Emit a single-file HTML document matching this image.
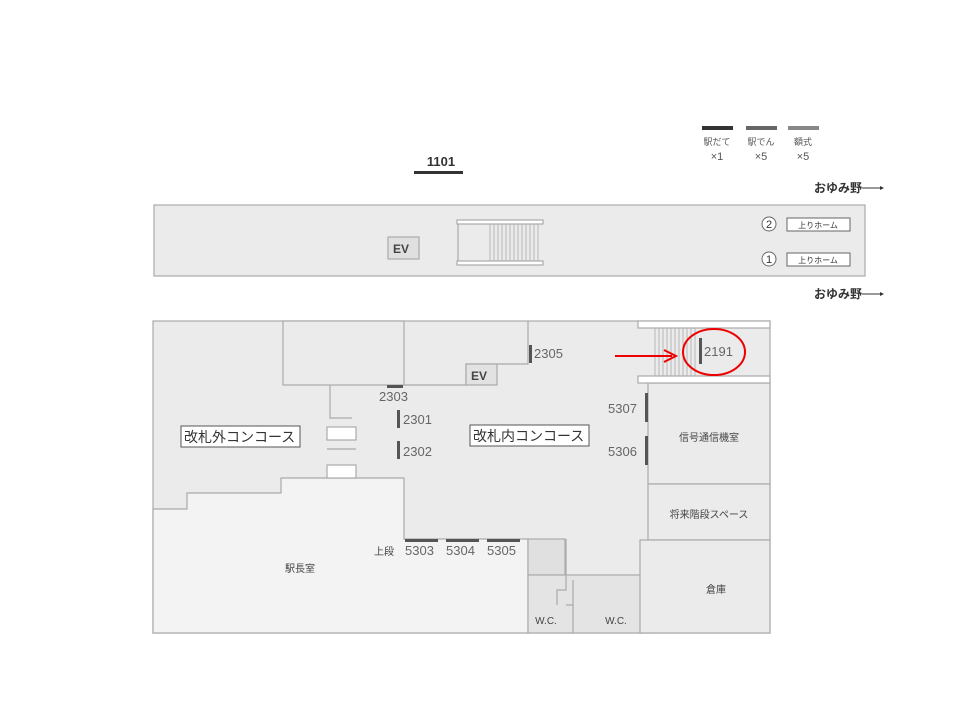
<!DOCTYPE html>
<html><head><meta charset="utf-8"><style>body{margin:0;background:#fff}svg{display:block}text{font-family:"Liberation Sans","Noto Sans CJK JP",sans-serif}</style></head><body>
<svg width="960" height="720" viewBox="0 0 960 720">
<g stroke="#aaa" stroke-width="1.2">
<rect x="154" y="205" width="711" height="71" fill="#ebebeb"/>
<rect x="153" y="321" width="617" height="312" fill="#ebebeb"/>
<polygon points="153,509 187,509 187,493 281,493 281,478 404,478 404,539 528,539 528,633 153,633" fill="#f3f3f3"/>
<rect x="283" y="321" width="121" height="64" fill="#ebebeb"/>
<polyline points="404,385 466,385 466,364 528,364 528,321" fill="none"/>
<rect x="466" y="364" width="31" height="21" fill="#e2e2e2"/>
<rect x="528" y="539" width="37" height="36" fill="#e0e0e0"/>
<rect x="528" y="575" width="124" height="58" fill="#e4e4e4"/>
<polyline points="566,539 566,590 557,590 557,605" fill="none"/>
<polyline points="573,580 573,605 566,605" fill="none"/>
<line x1="573" y1="605" x2="573" y2="633"/>
<rect x="648" y="383" width="122" height="101" fill="#ebebeb"/>
<rect x="648" y="484" width="122" height="56" fill="#ebebeb"/>
<rect x="640" y="540" width="130" height="93" fill="#ebebeb"/>
<rect x="638" y="321" width="132" height="7" fill="#fff"/>
<rect x="638" y="376" width="132" height="7" fill="#fff"/>
<polyline points="330,385 330,418 352,418" fill="none"/>
<rect x="327" y="427" width="29" height="13" fill="#fff"/>
<line x1="327" y1="449" x2="356" y2="449"/>
<rect x="327" y="465" width="29" height="13" fill="#fff"/>
<rect x="388" y="237" width="31" height="22" fill="#e0e0e0"/>
<rect x="457" y="220" width="86" height="4" fill="#fff"/>
<rect x="457" y="261" width="86" height="4" fill="#fff"/>
<line x1="458" y1="224" x2="458" y2="261"/>
</g>
<g stroke="#aaa" stroke-width="0.8">
<line x1="490" y1="224" x2="490" y2="261"/><line x1="494" y1="224" x2="494" y2="261"/><line x1="498" y1="224" x2="498" y2="261"/><line x1="502" y1="224" x2="502" y2="261"/><line x1="506" y1="224" x2="506" y2="261"/><line x1="510" y1="224" x2="510" y2="261"/><line x1="514" y1="224" x2="514" y2="261"/><line x1="518" y1="224" x2="518" y2="261"/><line x1="522" y1="224" x2="522" y2="261"/><line x1="526" y1="224" x2="526" y2="261"/><line x1="530" y1="224" x2="530" y2="261"/><line x1="534" y1="224" x2="534" y2="261"/><line x1="538" y1="224" x2="538" y2="261"/>
<line x1="655" y1="328" x2="655" y2="376"/><line x1="659" y1="328" x2="659" y2="376"/><line x1="663" y1="328" x2="663" y2="376"/><line x1="667" y1="328" x2="667" y2="376"/><line x1="671" y1="328" x2="671" y2="376"/><line x1="675" y1="328" x2="675" y2="376"/><line x1="679" y1="328" x2="679" y2="376"/><line x1="683" y1="328" x2="683" y2="376"/><line x1="687" y1="328" x2="687" y2="376"/><line x1="691" y1="328" x2="691" y2="376"/><line x1="695" y1="328" x2="695" y2="376"/>
</g>
<!-- legend -->
<rect x="702" y="126" width="31" height="4" fill="#333"/>
<rect x="746" y="126" width="31" height="4" fill="#666"/>
<rect x="788" y="126" width="31" height="4" fill="#888"/>
<g font-size="9" fill="#555" text-anchor="middle"><text x="717" y="145">駅だて</text><text x="761" y="145">駅でん</text><text x="803" y="145">額式</text>
<text x="717" y="160" font-size="11">×1</text><text x="761" y="160" font-size="11">×5</text><text x="803" y="160" font-size="11">×5</text></g>
<text x="441" y="166" font-size="13" font-weight="bold" fill="#333" text-anchor="middle">1101</text>
<rect x="414" y="171" width="49" height="3" fill="#333"/>
<g font-size="12" font-weight="bold" fill="#333"><text x="814" y="192">おゆみ野</text><text x="814" y="298">おゆみ野</text></g>
<g stroke="#333" stroke-width="1"><line x1="862" y1="188" x2="880" y2="188"/><line x1="862" y1="294" x2="880" y2="294"/></g>
<polygon points="880,186 884,188 880,190" fill="#333"/><polygon points="880,292 884,294 880,296" fill="#333"/>
<g fill="#fff" stroke="#666"><circle cx="769" cy="224" r="7"/><circle cx="769" cy="259" r="7"/><rect x="787" y="218" width="63" height="13"/><rect x="787" y="253" width="63" height="13"/></g>
<g font-size="11" fill="#333" text-anchor="middle"><text x="769" y="228">2</text><text x="769" y="263">1</text></g>
<g font-size="8" fill="#333" text-anchor="middle"><text x="818" y="228">上りホーム</text><text x="818" y="263">上りホーム</text></g>
<g font-size="12" font-weight="bold" fill="#444"><text x="393" y="253">EV</text><text x="471" y="380">EV</text></g>
<!-- bars -->
<g fill="#555"><rect x="387" y="385" width="16" height="3"/><rect x="397" y="410" width="3" height="18"/><rect x="397" y="441" width="3" height="18"/><rect x="529" y="345" width="3" height="18"/><rect x="645" y="393" width="3" height="29"/><rect x="645" y="436" width="3" height="29"/><rect x="405" y="539" width="33" height="3"/><rect x="446" y="539" width="33" height="3"/><rect x="487" y="539" width="33" height="3"/><rect x="699" y="338" width="3" height="26"/></g>
<g font-size="13" fill="#666"><text x="379" y="401">2303</text><text x="403" y="424">2301</text><text x="403" y="456">2302</text><text x="534" y="358">2305</text><text x="608" y="413">5307</text><text x="608" y="456">5306</text><text x="405" y="555">5303</text><text x="446" y="555">5304</text><text x="487" y="555">5305</text><text x="704" y="356">2191</text></g>
<text x="374" y="555" font-size="10" fill="#444">上段</text>
<g fill="#fff" stroke="#555"><rect x="181" y="426" width="119" height="21"/><rect x="470" y="425" width="119" height="21"/></g>
<g font-size="14" fill="#333"><text x="184" y="442">改札外コンコース</text><text x="473" y="441">改札内コンコース</text></g>
<g font-size="10" fill="#444" text-anchor="middle"><text x="300" y="572">駅長室</text><text x="709" y="441">信号通信機室</text><text x="709" y="518">将来階段スペース</text><text x="716" y="593">倉庫</text><text x="546" y="624">W.C.</text><text x="616" y="624">W.C.</text></g>
<ellipse cx="714" cy="352" rx="31" ry="23" fill="none" stroke="#e00" stroke-width="2"/>
<line x1="615" y1="356" x2="672" y2="356" stroke="#e00" stroke-width="2"/>
<polyline points="664,350 676,356 664,362" fill="none" stroke="#e00" stroke-width="2"/>
</svg>
</body></html>
